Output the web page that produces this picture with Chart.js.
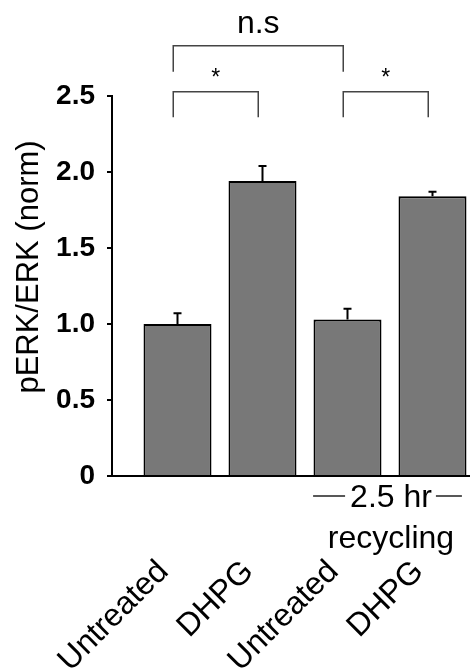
<!DOCTYPE html>
<html>
<head>
<meta charset="utf-8">
<title>pERK/ERK</title>
<script src="https://cdn.jsdelivr.net/npm/chart.js@4.4.1/dist/chart.umd.min.js"></script>
<style>
  html, body { margin: 0; padding: 0; background: #fff; }
  canvas { display: block; }
</style>
</head>
<body>
<canvas id="erkChart" width="470" height="669"></canvas>
<script>
// groups along the x axis
var groupLabels = ['Untreated', 'DHPG', 'Untreated', 'DHPG'];
var groupPos = [1, 2, 3, 4];

// normalised pERK/ERK, mean and SEM
var meanValues = [1.00, 1.94, 1.03, 1.84];
var semValues = [0.07, 0.10, 0.07, 0.03];

var yTicks = [0, 0.5, 1.0, 1.5, 2.0, 2.5];

// pairwise comparisons shown above the bars
var compareFrom = [1, 3, 1];
var compareTo = [2, 4, 3];
var compareText = ['*', '*', 'n.s'];

(function () {
    var FONT = '"Liberation Sans", Arial, Helvetica, sans-serif';
    Chart.defaults.font.family = FONT;
    Chart.defaults.color = '#000';

    var extras = {
        id: 'extras',
        afterDatasetsDraw: function (chart) {
            var ctx = chart.ctx;
            var xs = chart.scales.x;
            var ys = chart.scales.y;

            // error bars (upper half only)
            ctx.save();
            ctx.strokeStyle = '#000';
            ctx.lineWidth = 2;
            meanValues.forEach(function (v, i) {
                var px = xs.getPixelForValue(groupPos[i]);
                var base = ys.getPixelForValue(v);
                var top = ys.getPixelForValue(v + semValues[i]);
                ctx.beginPath();
                ctx.moveTo(px, base);
                ctx.lineTo(px, top);
                ctx.moveTo(px - 4, top);
                ctx.lineTo(px + 4, top);
                ctx.stroke();
            });
            ctx.restore();
        },
        afterDraw: function (chart) {
            var ctx = chart.ctx;
            var xs = chart.scales.x;
            var ys = chart.scales.y;

            // significance brackets
            ctx.save();
            ctx.strokeStyle = '#444';
            ctx.lineWidth = 1.5;
            ctx.fillStyle = '#000';
            ctx.textAlign = 'center';
            ctx.textBaseline = 'alphabetic';
            compareText.forEach(function (label, i) {
                var wide = compareTo[i] - compareFrom[i] > 1;
                var x1 = xs.getPixelForValue(compareFrom[i] - 0.05);
                var x2 = xs.getPixelForValue(compareTo[i] - 0.05);
                var yTop = ys.getPixelForValue(wide ? 2.83 : 2.528);
                var yLeg = ys.getPixelForValue(wide ? 2.66 : 2.36);
                ctx.beginPath();
                ctx.moveTo(x1, yLeg);
                ctx.lineTo(x1, yTop);
                ctx.lineTo(x2, yTop);
                ctx.lineTo(x2, yLeg);
                ctx.stroke();
                if (wide) {
                    ctx.font = '32px ' + FONT;
                    ctx.fillText(label, (x1 + x2) / 2, ys.getPixelForValue(2.914));
                } else {
                    ctx.font = '23px ' + FONT;
                    ctx.fillText(label, (x1 + x2) / 2, ys.getPixelForValue(2.575));
                }
            });
            ctx.restore();

            // "2.5 hr recycling" under the last two bars
            var cx = xs.getPixelForValue(3.5) + 1;
            var y0 = ys.getPixelForValue(0);
            ctx.save();
            ctx.fillStyle = '#000';
            ctx.strokeStyle = '#222';
            ctx.lineWidth = 1.5;
            ctx.font = '32px ' + FONT;
            ctx.textAlign = 'center';
            ctx.textBaseline = 'alphabetic';
            var hr = '2.5 hr';
            var w = ctx.measureText(hr).width;
            ctx.fillText(hr, cx, y0 + 31);
            ctx.beginPath();
            ctx.moveTo(cx - w / 2 - 5, y0 + 20);
            ctx.lineTo(cx - w / 2 - 37, y0 + 20);
            ctx.moveTo(cx + w / 2 + 4, y0 + 20);
            ctx.lineTo(cx + w / 2 + 30, y0 + 20);
            ctx.stroke();
            ctx.fillText('recycling', cx, y0 + 72);

            // y axis title
            ctx.translate(38, 267);
            ctx.rotate(-Math.PI / 2);
            ctx.font = '31px ' + FONT;
            ctx.fillText('pERK/ERK (norm)', 0, 0);
            ctx.restore();
        }
    };

    function initChart() {
        var canvas = document.getElementById('erkChart');
        new Chart(canvas, {
            type: 'bar',
            data: {
                datasets: [{
                    data: groupPos.map(function (p, i) { return { x: p, y: meanValues[i] }; }),
                    backgroundColor: '#787878',
                    borderColor: '#000',
                    borderWidth: 2,
                    barPercentage: 0.8,
                    categoryPercentage: 1
                }]
            },
            options: {
                responsive: false,
                animation: false,
                layout: { padding: { top: 96, right: 0, bottom: 0, left: 0 } },
                plugins: {
                    legend: { display: false },
                    tooltip: { enabled: false }
                },
                scales: {
                    x: {
                        type: 'linear',
                        offset: false,
                        min: 0.2294,
                        max: 4.4412,
                        afterBuildTicks: function (scale) {
                            scale.ticks = groupPos.map(function (p) { return { value: p }; });
                        },
                        afterFit: function (scale) {
                            scale.height = 193;
                            scale.paddingLeft = 0;
                            scale.paddingRight = 0;
                        },
                        grid: { display: false, offset: false },
                        border: { display: true, color: '#000', width: 2 },
                        ticks: {
                            autoSkip: false,
                            minRotation: 45,
                            maxRotation: 45,
                            padding: 69,
                            labelOffset: -14,
                            color: '#000',
                            font: { size: 32 },
                            callback: function (value) {
                                return groupLabels[groupPos.indexOf(value)];
                            }
                        }
                    },
                    y: {
                        min: 0,
                        max: 2.5,
                        afterBuildTicks: function (scale) {
                            scale.ticks = yTicks.map(function (v) { return { value: v }; });
                        },
                        afterFit: function (scale) {
                            scale.width = 112;
                            scale.paddingTop = 0;
                            scale.paddingBottom = 0;
                        },
                        grid: {
                            drawOnChartArea: false,
                            drawTicks: true,
                            tickLength: 5,
                            color: '#000',
                            lineWidth: 2
                        },
                        border: { display: true, color: '#000', width: 2 },
                        ticks: {
                            padding: 12,
                            color: '#000',
                            font: { size: 28, weight: 'bold' },
                            callback: function (value) {
                                return value === 0 ? '0' : value.toFixed(1);
                            }
                        }
                    }
                }
            },
            plugins: [extras]
        });
    }

    if (document.readyState === 'loading') {
        document.addEventListener('DOMContentLoaded', initChart);
    } else {
        initChart();
    }
})();
</script>
</body>
</html>
